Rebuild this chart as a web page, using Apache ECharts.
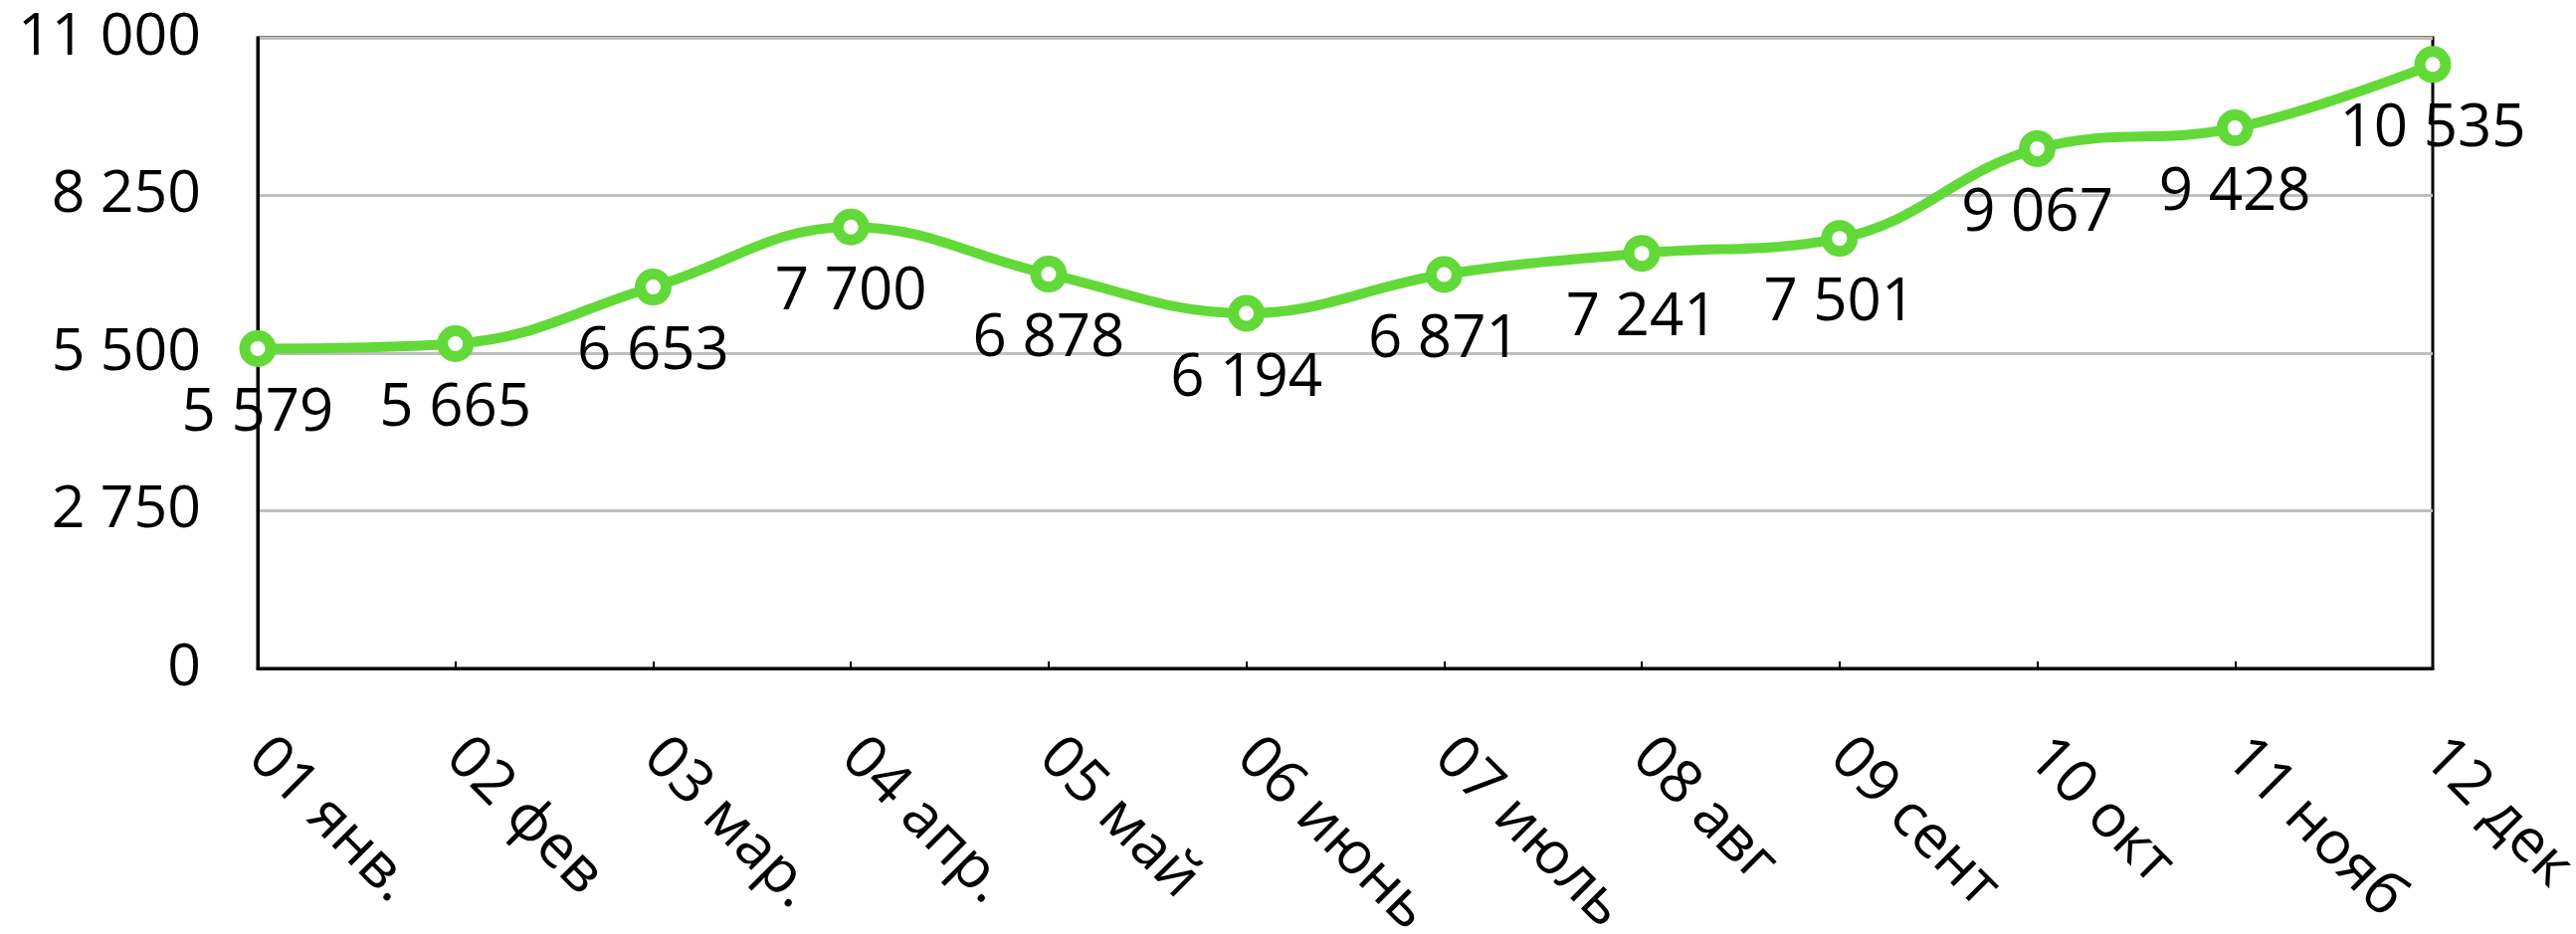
<!DOCTYPE html>
<html>
<head>
<meta charset="utf-8">
<script src="https://cdn.jsdelivr.net/npm/echarts@6/dist/echarts.min.js"></script>
<style>
  html, body { margin: 0; padding: 0; background: #fff; }
  #chart { width: 2589px; height: 939px; }
</style>
</head>
<body>
<div id="chart"></div>
<script>
const months = ['01 янв.', '02 фев', '03 мар.', '04 апр.', '05 май', '06 июнь',
  '07 июль', '08 авг', '09 сент', '10 окт', '11 нояб', '12 дек'];
const values = [5579, 5665, 6653, 7700, 6878, 6194, 6871, 7241, 7501, 9067, 9428, 10535];
const yMin = 0;
const yMax = 11000;
const yStep = 2750;

const FONT = 'Open Sans';
const GREEN = '#62d938';

// 11000 -> "11 000"
function fmt(v) {
  return String(v).replace(/\B(?=(\d{3})+(?!\d))/g, ' ');
}

const chart = echarts.init(document.getElementById('chart'));

chart.setOption({
  animation: false,
  grid: {
    left: 259,
    right: 144,
    top: 38,
    bottom: 267,
    outerBoundsMode: 'none',
    containLabel: false,
    show: true,
    borderColor: '#000',
    borderWidth: 3,
  },
  xAxis: {
    type: 'category',
    data: months,
    boundaryGap: false,
    axisLine: { lineStyle: { color: '#000', width: 3 } },
    axisTick: {
      show: true,
      inside: true,
      length: 7,
      alignWithLabel: true,
      lineStyle: { color: '#000', width: 2 },
    },
    axisLabel: {
      rotate: -45,
      margin: 80,
      color: '#000',
      fontFamily: FONT,
      fontSize: 60,
      interval: 0,
    },
    splitLine: { show: false },
  },
  yAxis: {
    type: 'value',
    min: yMin,
    max: yMax,
    interval: yStep,
    axisLine: { show: true, lineStyle: { color: '#000', width: 3 } },
    axisTick: { show: false },
    axisLabel: {
      margin: 57,
      color: '#000',
      fontFamily: FONT,
      fontSize: 59,
      formatter: fmt,
    },
    splitLine: { lineStyle: { color: '#bfbfbf', width: 3 } },
  },
  series: [
    {
      type: 'line',
      data: values,
      smooth: 0.4,
      symbol: 'circle',
      symbolSize: 26,
      lineStyle: { color: GREEN, width: 10 },
      itemStyle: { color: '#fff', borderColor: GREEN, borderWidth: 11 },
      label: {
        show: true,
        position: 'bottom',
        distance: 17,
        color: '#000',
        fontFamily: FONT,
        fontSize: 60,
        formatter: (p) => fmt(p.value),
      },
      z: 3,
    },
  ],
});
</script>
</body>
</html>
